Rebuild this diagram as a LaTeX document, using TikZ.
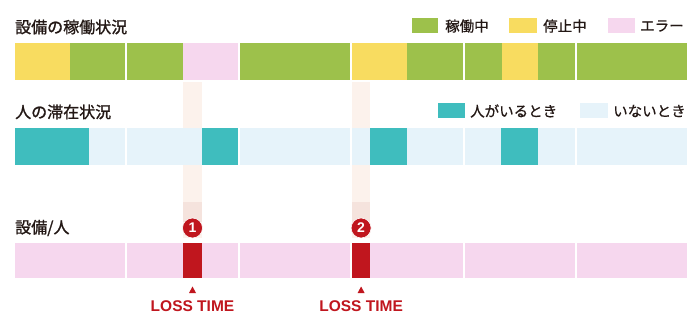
\documentclass[tikz,border=0pt]{standalone}
\usepackage{fontspec}
\setmainfont{Liberation Sans}
\newfontfamily\jp[FakeBold=1.2]{Noto Sans CJK JP}
\newfontfamily\jpl[FakeBold=0.6]{Noto Sans CJK JP}
\definecolor{cyel}{HTML}{F8DC60}
\definecolor{cgrn}{HTML}{9DC14B}
\definecolor{cpnk}{HTML}{F6D7EE}
\definecolor{cteal}{HTML}{3FBDBE}
\definecolor{clbl}{HTML}{E6F3FA}
\definecolor{cred}{HTML}{C0161E}
\definecolor{cband}{HTML}{FCF2EC}
\definecolor{cband2}{HTML}{F5E3DD}
\definecolor{ctxt}{HTML}{231815}
\begin{document}
\begin{tikzpicture}[x=1pt,y=-1pt,
  title/.style={anchor=west,inner sep=0pt,font=\jp\fontsize{16}{17}\selectfont,text=ctxt},
  legtext/.style={anchor=west,inner sep=0pt,font=\jpl\fontsize{14.5}{15}\selectfont,text=ctxt},
  losslabel/.style={inner sep=0pt,font=\bfseries\fontsize{15.5}{16}\selectfont,text=cred},
  numcircle/.style={circle,fill=cred,draw=white,line width=0.6pt,minimum size=20pt,inner sep=0pt,text=white,font=\bfseries\fontsize{14}{14}\selectfont}]
\useasboundingbox (0,0) rectangle (700,326);
\fill[white] (0,0) rectangle (700,326);
% highlight bands
\fill[cband] (183,82) rectangle (202,238);
\fill[cband2] (183,202) rectangle (202,222);
\fill[cband] (352.2,82) rectangle (370,238);
\fill[cband2] (352.2,202) rectangle (370,222);
% titles
\node[title] (t1) at (15,27) {設備の稼働状況};
\node[title] (t2) at (15,112) {人の滞在状況};
\node[title] (t3) at (15,228) {設備/人};
% legend row 1
\fill[cgrn] (412,18) rectangle (438,33);
\node[legtext] (l1) at (445,26) {稼働中};
\fill[cyel] (509,18) rectangle (537,33);
\node[legtext] (l2) at (543,26) {停止中};
\fill[cpnk] (608,18) rectangle (635,33);
\node[legtext] (l3) at (640,26) {エラー};
% legend row 2
\fill[cteal] (438,103) rectangle (465,118);
\node[legtext] (l4) at (470,111) {人がいるとき};
\fill[clbl] (580,103) rectangle (608,118);
\node[legtext] (l5) at (613,111) {いないとき};
% row 1: equipment
\fill[cyel] (15,43) rectangle (70.2,80);
\fill[cgrn] (70.2,43) rectangle (125.4,80);
\fill[cgrn] (127.4,43) rectangle (182.6,80);
\fill[cpnk] (183,43) rectangle (237.8,80);
\fill[cgrn] (239.8,43) rectangle (350.2,80);
\fill[cyel] (352.2,43) rectangle (407,80);
\fill[cgrn] (407,43) rectangle (462.6,80);
\fill[cgrn] (464.6,43) rectangle (502,80);
\fill[cyel] (502,43) rectangle (538,80);
\fill[cgrn] (538,43) rectangle (575,80);
\fill[cgrn] (577,43) rectangle (687.4,80);
% row 2: people
\fill[cteal] (15,128) rectangle (89,165);
\fill[clbl] (89,128) rectangle (125.4,165);
\fill[clbl] (127.4,128) rectangle (202,165);
\fill[cteal] (202,128) rectangle (237.8,165);
\fill[clbl] (239.8,128) rectangle (350.2,165);
\fill[clbl] (352.2,128) rectangle (370,165);
\fill[cteal] (370,128) rectangle (407,165);
\fill[clbl] (407,128) rectangle (462.6,165);
\fill[clbl] (464.6,128) rectangle (501,165);
\fill[cteal] (501,128) rectangle (538,165);
\fill[clbl] (538,128) rectangle (575,165);
\fill[clbl] (577,128) rectangle (687.4,165);
% row 3: combined
\fill[cpnk] (15,243) rectangle (125.4,278);
\fill[cpnk] (127.4,243) rectangle (237.8,278);
\fill[cpnk] (239.8,243) rectangle (350.2,278);
\fill[cpnk] (352.2,243) rectangle (462.6,278);
\fill[cpnk] (464.6,243) rectangle (575,278);
\fill[cpnk] (577,243) rectangle (687.4,278);
\fill[cred] (183,243) rectangle (202,278);
\fill[cred] (352.2,243) rectangle (370,278);
% numbers
\node[numcircle] (n1) at (192.5,228) {1};
\node[numcircle] (n2) at (361.1,228) {2};
% markers
\fill[cred] (192.5,286.5) -- (196,293) -- (189,293) -- cycle;
\fill[cred] (361.1,286.5) -- (364.6,293) -- (357.6,293) -- cycle;
\node[losslabel] (lt1) at (192.5,306) {LOSS TIME};
\node[losslabel] (lt2) at (361.1,306) {LOSS TIME};
\end{tikzpicture}
\end{document}
